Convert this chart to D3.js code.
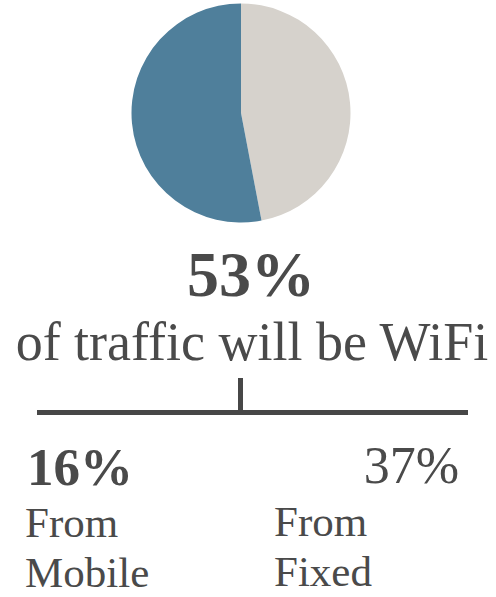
<!DOCTYPE html>
<html>
<head>
<meta charset="utf-8">
<script src="https://cdn.jsdelivr.net/npm/d3@7"></script>
<style>
  body { margin: 0; background: #fff; }
  text { font-family: "Liberation Serif", "Times New Roman", serif; fill: #4a4a4a; }
</style>
</head>
<body>
<div id="chart"></div>
<script>
// pie slices, clockwise from 12 o'clock
var sliceNames = ["Other", "WiFi"];
var sliceValues = [47, 53];
var sliceColors = ["#d6d2cc", "#4f7f9b"];

var headline = "53%";
var subline = "of traffic will be WiFi";

var splitValues = ["16%", "37%"];
var splitLines = [["From", "Mobile"], ["From", "Fixed"]];

var width = 496, height = 597;

var svg = d3.select("#chart").append("svg")
    .attr("width", width)
    .attr("height", height);

var pie = d3.pie().sort(null).value(function(d) { return d; });
var arc = d3.arc().innerRadius(0).outerRadius(109.5);

var g = svg.append("g").attr("transform", "translate(241,113)");
g.selectAll("path")
    .data(pie(sliceValues))
    .enter()
    .append("path")
    .attr("d", arc)
    .style("fill", function(d, i) { return sliceColors[i]; });

svg.append("text")
    .attr("x", 251).attr("y", 296)
    .attr("text-anchor", "middle")
    .style("font-weight", "bold")
    .style("font-size", "64px")
    .text(headline);

svg.append("text")
    .attr("x", 252).attr("y", 360)
    .attr("text-anchor", "middle")
    .style("font-size", "54px")
    .text(subline);

// bracket line
svg.append("line")
    .attr("x1", 37).attr("x2", 468)
    .attr("y1", 412.5).attr("y2", 412.5)
    .style("stroke", "#474747")
    .style("stroke-width", 5);
svg.append("line")
    .attr("x1", 240.5).attr("x2", 240.5)
    .attr("y1", 378).attr("y2", 412)
    .style("stroke", "#474747")
    .style("stroke-width", 5);

// percentages under the bracket
svg.append("text")
    .attr("x", 27).attr("y", 485)
    .style("font-weight", "bold")
    .style("font-size", "53px")
    .text(splitValues[0]);
svg.append("text")
    .attr("x", 459).attr("y", 483)
    .attr("text-anchor", "end")
    .style("font-size", "52px")
    .text(splitValues[1]);

var lx = [25, 274];
splitLines.forEach(function(lines, i) {
    svg.selectAll(null)
        .data(lines)
        .enter()
        .append("text")
        .attr("x", lx[i])
        .attr("y", function(d, j) { return (i == 0 ? 537 : 536) + j * 50; })
        .style("font-size", "43px")
        .text(function(d) { return d; });
});
</script>
</body>
</html>
